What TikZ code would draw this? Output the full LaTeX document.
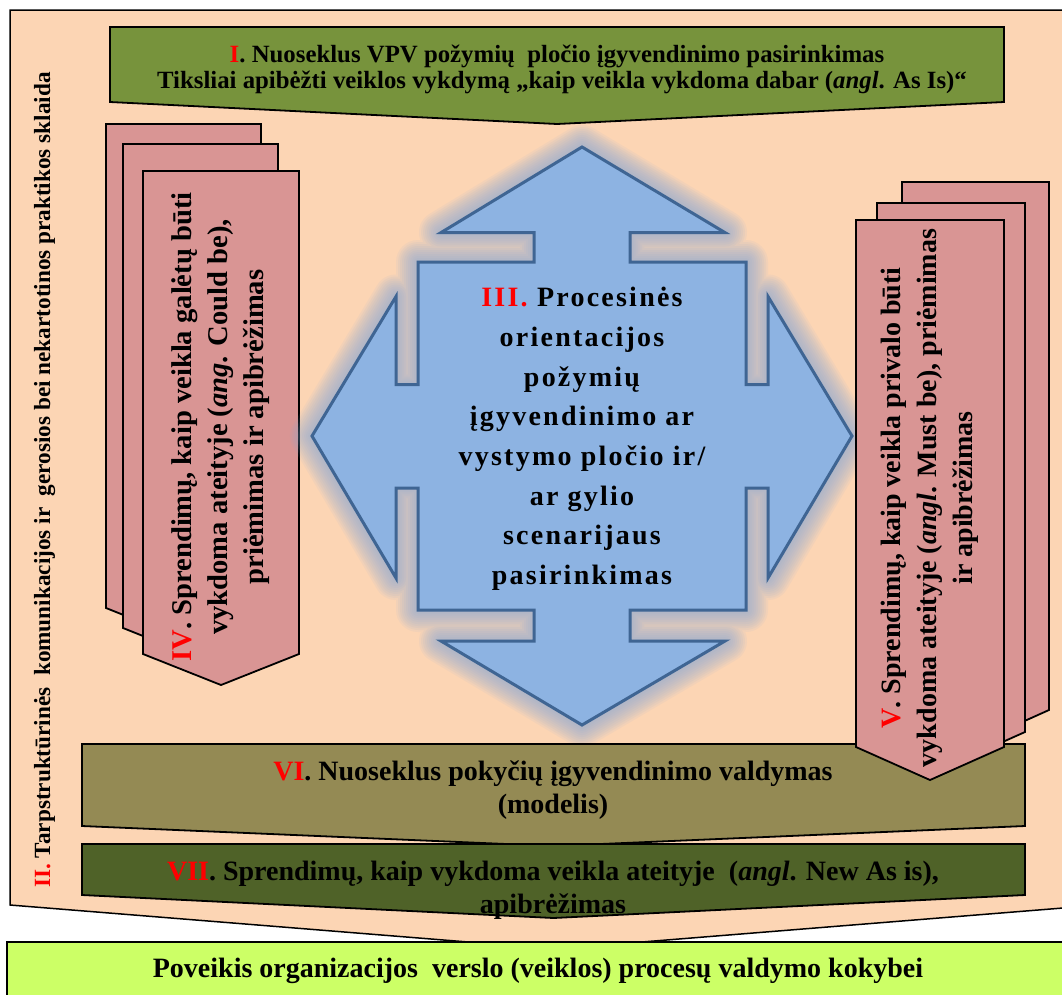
\documentclass[tikz,border=0pt]{standalone}
\usepackage{fontspec}
\setmainfont{Liberation Serif}
\newfontfamily\spacedserif[LetterSpace=8]{Liberation Serif}
\definecolor{peach}{HTML}{FCD5B4}
\definecolor{olivegreen}{HTML}{77933C}
\definecolor{rosebox}{HTML}{D99594}
\definecolor{skyfill}{HTML}{8DB3E2}
\definecolor{skyedge}{HTML}{3F6593}
\definecolor{glowblue}{HTML}{7FA6DC}
\definecolor{khaki}{HTML}{948A54}
\definecolor{darkolive}{HTML}{4F6228}
\definecolor{limebox}{HTML}{CCFF66}
\newcommand\numred[1]{\textcolor{red}{#1}}
% chevron panel: style, left, right, top, side bottom, tip
\newcommand\chevronpanel[6]{%
  \filldraw[#1] (#2,#4) -- (#3,#4) -- (#3,#5) -- ({(#2+#3)/2},#6) -- (#2,#5) -- cycle;}
% outline of the four-way arrow
\newcommand\crossoutline{(582,147) -- (725,232.6) -- (630,232.6) -- (630,262) -- (746,262)
  -- (746,384.5) -- (768,384.5) -- (768,296.5) -- (852,436) -- (768,578) -- (768,488)
  -- (746,488) -- (746,610) -- (630,610) -- (630,641) -- (725,641) -- (582,725)
  -- (441,641) -- (534,641) -- (534,610) -- (418,610) -- (418,488) -- (396,488)
  -- (396,578) -- (312,436) -- (396,296.5) -- (396,384.5) -- (418,384.5) -- (418,262)
  -- (534,262) -- (534,232.6) -- (441,232.6) -- cycle}
\begin{document}
\begin{tikzpicture}[x=1pt,y=-1pt,
  panel/.style={draw=black, line width=1.8pt, line join=miter},
  label/.style={inner sep=0pt, text=black, font=\bfseries},
  halo/.style={draw=glowblue, draw opacity=0.08, line join=round}]
\useasboundingbox (0,0) rectangle (1062,994);
\clip (0,0) rectangle (1062,994);
\fill[white] (0,0) rectangle (1062,994);

% outer frame arrow
\filldraw[fill=peach, draw=black, line width=1.5pt] (10,10) -- (1100,10) -- (1100,905) -- (555,949) -- (10,905) -- cycle;

% stage I banner
\chevronpanel{panel, fill=olivegreen}{110}{1004}{27}{102}{124}

% stage IV stack
\chevronpanel{panel, fill=rosebox}{106}{261}{124}{608}{639}
\chevronpanel{panel, fill=rosebox}{123}{278}{144}{628}{659}
\chevronpanel{panel, fill=rosebox}{143}{299}{171}{654}{685}

% four-way arrow with soft halo
\foreach \w in {44,40,36,32,28,24,20,16,12,8,4} \draw[halo, line width=\w pt] \crossoutline;
\filldraw[fill=skyfill, draw=skyedge, line width=3pt, line join=miter] \crossoutline;

% stages VI and VII
\chevronpanel{panel, fill=khaki}{82}{1025}{744}{826}{846}
\chevronpanel{panel, fill=darkolive}{82}{1025}{844}{895}{918}

% stage V stack
\chevronpanel{panel, fill=rosebox}{902}{1049}{182}{710}{743}
\chevronpanel{panel, fill=rosebox}{877}{1025}{203}{732}{765}
\chevronpanel{panel, fill=rosebox}{856}{1004}{220}{747}{780}

% result bar
\filldraw[fill=limebox, draw=black, line width=1.8pt] (7,942) rectangle (1080,1010);

% texts
\node[label, anchor=base, font=\bfseries\fontsize{24.8}{28}\selectfont] (stageIa) at (557,62)
  {\numred{I}. Nuoseklus VPV požymių\ \ pločio įgyvendinimo pasirinkimas};
\node[label, anchor=base, font=\bfseries\fontsize{24.8}{28}\selectfont] (stageIb) at (562,88)
  {Tiksliai apibėžti veiklos vykdymą „kaip veikla vykdoma dabar (\textit{angl}. As Is)“};

\node[label, anchor=base, rotate=90, font=\bfseries\fontsize{23.2}{26}\selectfont] (stageII) at (50,480)
  {\numred{II.} Tarpstruktūrinės\ \ komunikacijos ir\ \ gerosios bei nekartotinos praktikos sklaida};

\node[label, align=center, font=\spacedserif\bfseries\fontsize{28}{39.7}\selectfont] (stageIII) at (582,439)
  {\numred{III.} Procesinės\\orientacijos\\požymių\\įgyvendinimo ar\\vystymo pločio ir/\\ar gylio\\scenarijaus\\pasirinkimas};

\node[label, align=center, rotate=90, font=\bfseries\fontsize{28.6}{36}\selectfont] (stageIV) at (221,427)
  {\numred{IV}. Sprendimų, kaip veikla galėtų būti\\vykdoma ateityje (\textit{ang}. Could be),\\priėmimas ir apibrėžimas};

\node[label, align=center, rotate=90, font=\bfseries\fontsize{28}{36}\selectfont] (stageV) at (930,498)
  {\numred{V}. Sprendimų, kaip veikla privalo būti\\vykdoma ateityje (\textit{angl}. Must be), priėmimas\\ir apibrėžimas};

\node[label, anchor=base, font=\bfseries\fontsize{28}{30}\selectfont] (stageVIa) at (553,780)
  {\numred{VI}. Nuoseklus pokyčių įgyvendinimo valdymas};
\node[label, anchor=base, font=\bfseries\fontsize{28}{30}\selectfont] (stageVIb) at (553,813)
  {(modelis)};

\node[label, anchor=base, font=\bfseries\fontsize{28}{30}\selectfont] (stageVIIa) at (553,880)
  {\numred{VII}. Sprendimų, kaip vykdoma veikla ateityje\ \ (\textit{angl}. New As is),};
\node[label, anchor=base, font=\bfseries\fontsize{28}{30}\selectfont] (stageVIIb) at (553,913)
  {apibrėžimas};

\node[label, anchor=base, font=\bfseries\fontsize{28}{30}\selectfont] (impact) at (538,977)
  {Poveikis organizacijos\ \ verslo (veiklos) procesų valdymo kokybei};
\end{tikzpicture}
\end{document}
